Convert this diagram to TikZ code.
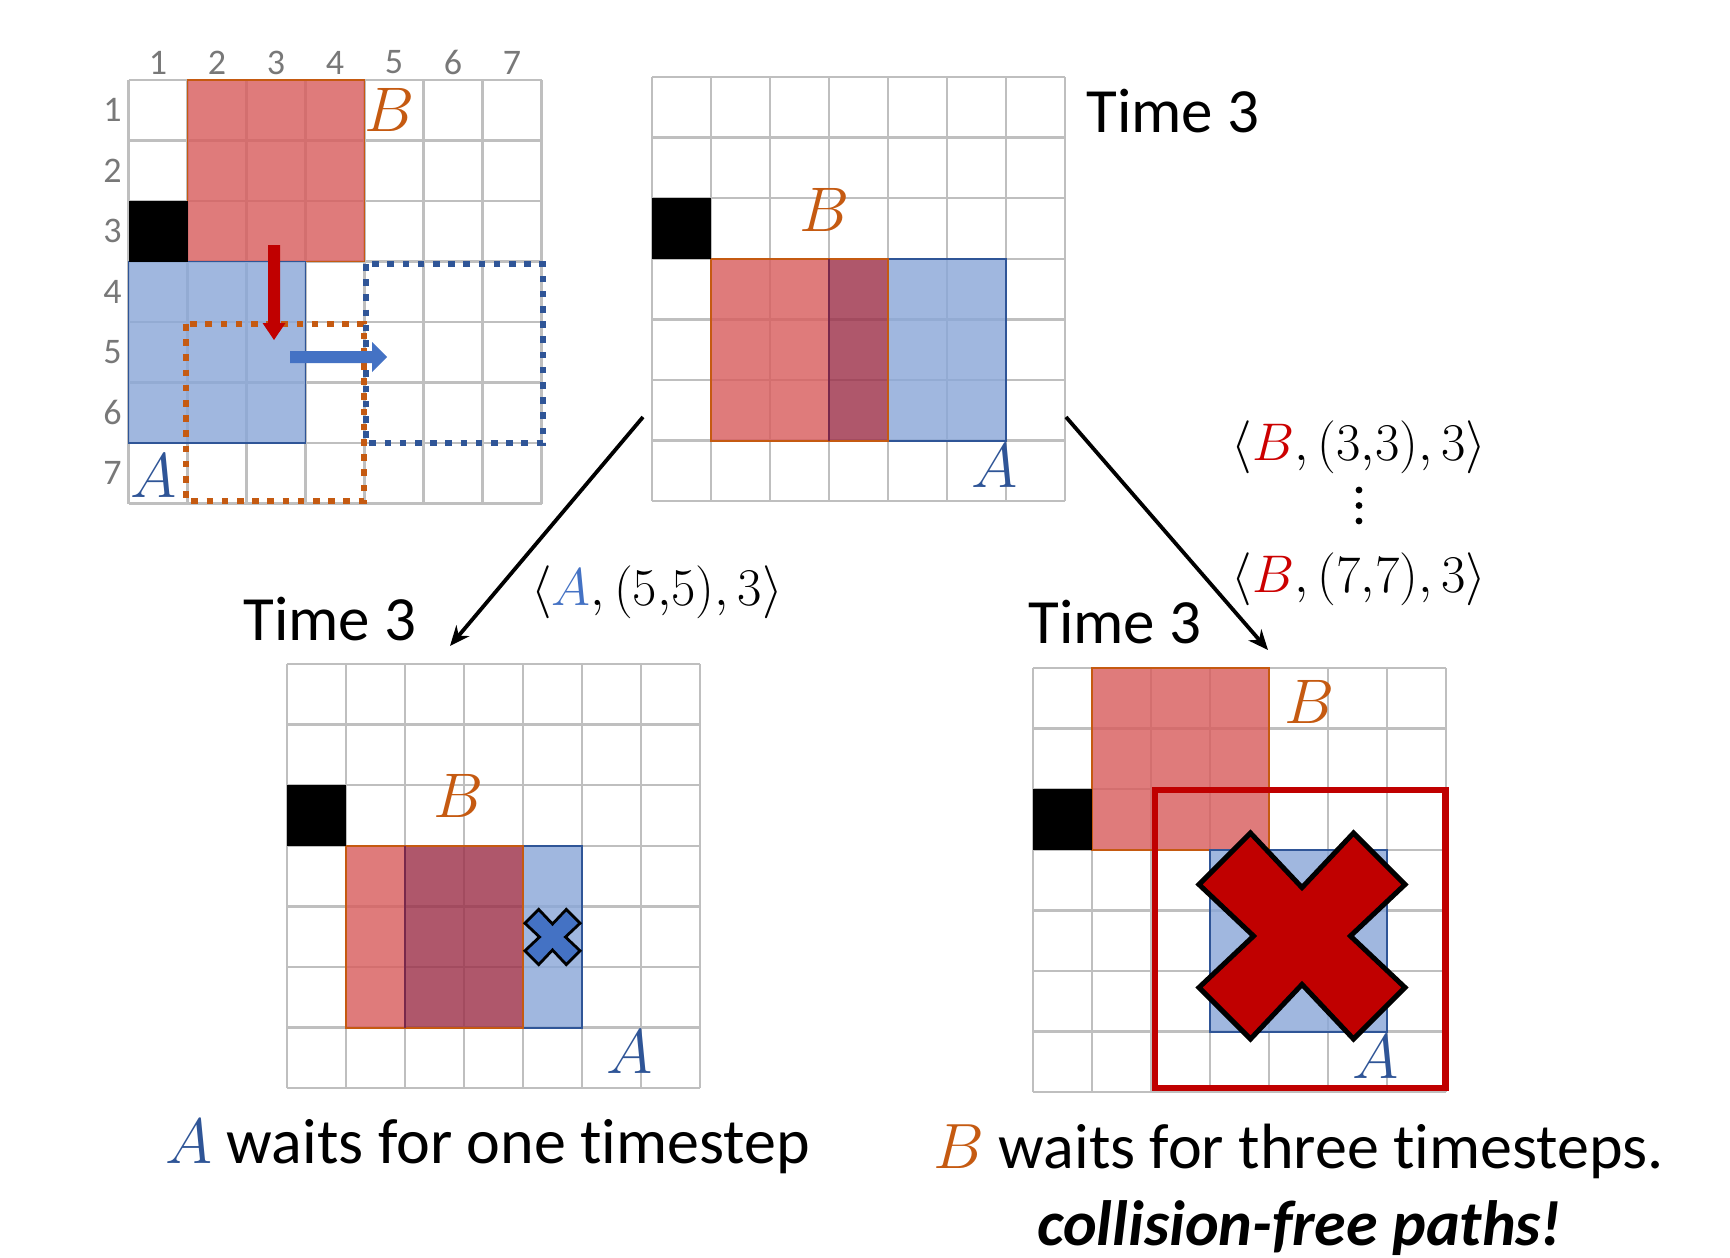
\RequirePackage{fix-cm}
\documentclass[tikz,border=0pt]{standalone}
\usepackage{fontspec}
\setmainfont[Ligatures=NoCommon]{Carlito}
\usetikzlibrary{arrows.meta}
\definecolor{gridgray}{RGB}{191,191,191}
\definecolor{redbase}{RGB}{216,91,91}
\definecolor{bluebase}{RGB}{137,166,216}
\definecolor{purpbase}{RGB}{155,46,71}
\definecolor{orangeB}{RGB}{197,90,17}
\definecolor{blueA}{RGB}{47,85,151}
\definecolor{darkred}{RGB}{192,0,0}
\definecolor{xblue}{RGB}{68,114,196}
\definecolor{purpline}{RGB}{120,40,75}
\definecolor{numgray}{RGB}{120,120,120}
\definecolor{labred}{RGB}{204,0,0}
\tikzset{
  gl/.style={draw=gridgray, line width=1.2pt, line cap=square},
  redf/.style={fill=redbase, fill opacity=0.8},
  bluef/.style={fill=bluebase, fill opacity=0.8},
  purpf/.style={fill=purpbase, fill opacity=0.8},
  redb/.style={draw=orangeB, line width=0.9pt},
  blueb/.style={draw=blueA, line width=0.9pt},
  purpb/.style={draw=purpline, line width=0.9pt},
  glab/.style={inner sep=0pt, font=\fontsize{31.5}{36}\selectfont},
  num/.style={inner sep=0pt, text=numgray, font=\fontsize{18}{21}\selectfont},
  timelab/.style={inner sep=0pt, anchor=base west, font=\fontsize{31.5}{36}\selectfont},
  caplab/.style={inner sep=0pt, anchor=base west, font=\fontsize{32}{38}\selectfont},
  mlab/.style={inner sep=0pt, anchor=base, font=\fontsize{26.5}{30}\selectfont},
  dotb/.style={draw=blueA, line width=3pt, dash pattern=on 3.3pt off 4.3pt},
  doto/.style={draw=orangeB, line width=3pt, dash pattern=on 3.3pt off 4.3pt},
  conn/.style={draw=black, line width=1.9pt, -{Stealth[length=10pt,width=8.5pt]}},
}
\newcommand{\gridlines}{%
  \foreach \i in {0,...,7}{\draw[gl] (\i,0) -- (\i,7); \draw[gl] (0,\i) -- (7,\i);}}
\newcommand{\crossmark}[4]{%
  \begin{scope}[shift={(#1,#2)},x=#3,y=-#3]
    \filldraw[#4] (-1,-0.5) -- (-0.5,-1) -- (0,-0.47) -- (0.5,-1) -- (1,-0.5) -- (0.47,0)
      -- (1,0.5) -- (0.5,1) -- (0,0.47) -- (-0.5,1) -- (-1,0.5) -- (-0.47,0) -- cycle;
  \end{scope}}
\begin{document}
\begin{tikzpicture}[x=0.5pt,y=-0.5pt]
\useasboundingbox[fill=white] (0,0) rectangle (1730,1258);

% ---------- Grid 1 (top left) ----------
\begin{scope}[shift={(128.5,80)},x=29.5pt,y=-30.25pt]
  \gridlines
  \fill[redf] (1,0) rectangle (4,3);
  \fill[bluef] (0,3) rectangle (3,6);
  \draw[redb] (1,0) rectangle (4,3);
  \draw[blueb] (0,3) rectangle (3,6);
  \fill[black] (0,2) rectangle (1,3);
  \foreach \n in {1,...,7}{
    \node[num] (g1c\n) at (\n-0.5,-0.29) {\n};
    \node[num] (g1r\n) at (-0.27,\n-0.5) {\n};
  }
  \node[glab, text=orangeB] (g1B) at (4.43,0.5) {$B$};
  \node[glab, text=blueA] (g1A) at (0.42,6.55) {$A$};
\end{scope}
\draw[doto] (186,324) rectangle (364,501);
\draw[dotb] (366,264) rectangle (543,443);
\fill[darkred] (268,245) -- (280,245) -- (280,323) -- (285.5,323) -- (274,340) -- (262.5,323) -- (268,323) -- cycle;
\fill[xblue] (290,351) -- (372,351) -- (372,342) -- (387,357) -- (372,372) -- (372,363) -- (290,363) -- cycle;

% ---------- Grid 2 (top middle) ----------
\begin{scope}[shift={(652,77)},x=29.5pt,y=-30.3pt]
  \gridlines
  \fill[redf] (1,3) rectangle (3,6);
  \fill[purpf] (3,3) rectangle (4,6);
  \fill[bluef] (4,3) rectangle (6,6);
  \draw[blueb] (3,3) rectangle (6,6);
  \draw[redb] (1,3) rectangle (4,6);
  \draw[purpb] (3,3) -- (3,6);
  \fill[black] (0,2) rectangle (1,3);
  \node[glab, text=orangeB] (g2B) at (2.92,2.19) {$B$};
  \node[glab, text=blueA] (g2A) at (5.81,6.42) {$A$};
\end{scope}
\node[timelab] (t2) at (1086,132) {Time 3};

% ---------- Grid 3 (bottom left) ----------
\begin{scope}[shift={(287,664)},x=29.5pt,y=-30.3pt]
  \gridlines
  \fill[redf] (1,3) rectangle (2,6);
  \fill[purpf] (2,3) rectangle (4,6);
  \fill[bluef] (4,3) rectangle (5,6);
  \draw[blueb] (2,3) rectangle (5,6);
  \draw[redb] (1,3) rectangle (4,6);
  \draw[purpb] (2,3) -- (2,6);
  \fill[black] (0,2) rectangle (1,3);
  \node[glab, text=orangeB] (g3B) at (2.9,2.18) {$B$};
  \node[glab, text=blueA] (g3A) at (5.8,6.4) {$A$};
\end{scope}
\crossmark{552.5}{937}{13.8pt}{fill=xblue, draw=black, line width=1.4pt}
\node[timelab] (t3) at (243,640) {Time 3};

% ---------- Grid 4 (bottom right) ----------
\begin{scope}[shift={(1033,668)},x=29.5pt,y=-30.3pt]
  \gridlines
  \fill[redf] (1,0) rectangle (4,3);
  \fill[bluef] (3,3) rectangle (6,6);
  \draw[redb] (1,0) rectangle (4,3);
  \draw[blueb] (3,3) rectangle (6,6);
  \fill[black] (0,2) rectangle (1,3);
  \node[glab, text=orangeB] (g4B) at (4.69,0.56) {$B$};
  \node[glab, text=blueA] (g4A) at (5.81,6.42) {$A$};
\end{scope}
\draw[darkred, line width=3.2pt] (1155,790) rectangle (1445.5,1088);
\crossmark{1302}{936}{51.5pt}{fill=darkred, draw=black, line width=2.5pt}
\node[timelab] (t4) at (1028,643) {Time 3};

% ---------- connectors ----------
\coordinate (g2sw) at (643,417);
\coordinate (g3top) at (450,646);
\coordinate (g2se) at (1066,417);
\coordinate (g4top) at (1268,650);
\draw[conn] (g2sw) -- (g3top);
\draw[conn] (g2se) -- (g4top);

\node[mlab] (labA) at (657,605) {$\langle \textcolor{xblue}{A}, (5{,}5), 3\rangle$};
\node[mlab] (labB1) at (1359,460) {$\langle \textcolor{labred}{B}, (3{,}3), 3\rangle$};
\node[mlab] (labB2) at (1359,592) {$\langle \textcolor{labred}{B}, (7{,}7), 3\rangle$};
\fill (1359,490) circle[radius=1.7pt];
\fill (1359,505.5) circle[radius=1.7pt];
\fill (1359,521) circle[radius=1.7pt];

% ---------- captions ----------
\node[caplab] (capA) at (165,1163) {\textcolor{blueA}{$A$} waits for one timestep};
\node[caplab] (capB) at (933,1168) {\textcolor{orangeB}{$B$} waits for three timesteps.};
\node[caplab] (capC) at (1037,1245) {\bfseries\itshape collision-free paths!};
\end{tikzpicture}
\end{document}
